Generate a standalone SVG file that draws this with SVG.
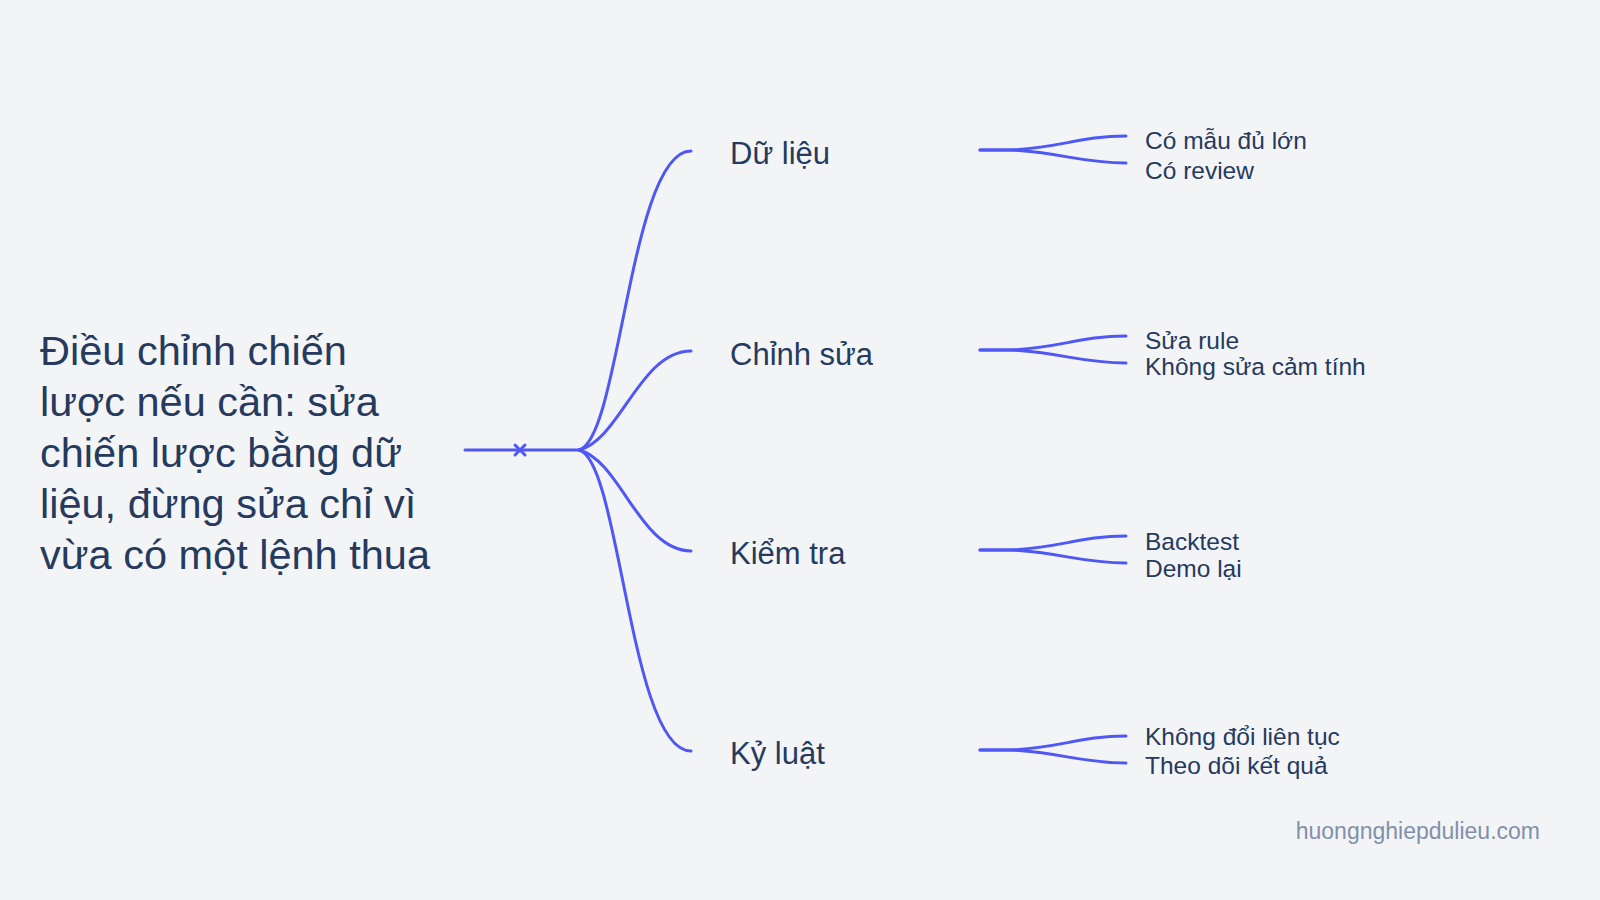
<svg xmlns="http://www.w3.org/2000/svg" width="1600" height="900" viewBox="0 0 1600 900">
<style>
.t{font-family:"Liberation Sans",Arial,sans-serif;fill:#263a5e}
.main{font-size:41.5px}
.lbl{font-size:31px}
.sub{font-size:24.5px}
.c path{fill:none;stroke:#4f58f5;stroke-width:3;stroke-linecap:round}
</style>
<rect width="1600" height="900" fill="#f3f4f6"/>
<g id="root">
<text class="t main" x="40" y="365">Điều chỉnh chiến</text>
<text class="t main" x="40" y="416">lược nếu cần: sửa</text>
<text class="t main" x="40" y="467">chiến lược bằng dữ</text>
<text class="t main" x="40" y="518">liệu, đừng sửa chỉ vì</text>
<text class="t main" x="40" y="569">vừa có một lệnh thua</text>
</g>
<g class="c" id="connectors">
<path d="M465,450 L579,450"/>
<path d="M515,445 L525,455 M525,445 L515,455"/>
<path d="M579,450 C620,440 630,151 691,151"/>
<path d="M579,450 C620,440 640,351 691,351"/>
<path d="M579,450 C620,460 640,551 691,551"/>
<path d="M579,450 C620,460 630,751 691,751"/>
<path d="M980,150 L1010,150 C1060,148 1080,136 1126,136"/>
<path d="M980,150 L1010,150 C1060,152 1080,163 1126,163"/>
<path d="M980,350 L1010,350 C1060,348 1080,336 1126,336"/>
<path d="M980,350 L1010,350 C1060,352 1080,363 1126,363"/>
<path d="M980,550 L1010,550 C1060,548 1080,536 1126,536"/>
<path d="M980,550 L1010,550 C1060,552 1080,563 1126,563"/>
<path d="M980,750 L1010,750 C1060,748 1080,736 1126,736"/>
<path d="M980,750 L1010,750 C1060,752 1080,763 1126,763"/>
</g>
<g id="n1"><text class="t lbl" x="730" y="164">Dữ liệu</text>
<text class="t sub" x="1145" y="149">Có mẫu đủ lớn</text><text class="t sub" x="1145" y="179">Có review</text></g>
<g id="n2"><text class="t lbl" x="730" y="365">Chỉnh sửa</text>
<text class="t sub" x="1145" y="349">Sửa rule</text><text class="t sub" x="1145" y="375">Không sửa cảm tính</text></g>
<g id="n3"><text class="t lbl" x="730" y="564">Kiểm tra</text>
<text class="t sub" x="1145" y="550">Backtest</text><text class="t sub" x="1145" y="577">Demo lại</text></g>
<g id="n4"><text class="t lbl" x="730" y="764">Kỷ luật</text>
<text class="t sub" x="1145" y="745">Không đổi liên tục</text><text class="t sub" x="1145" y="774">Theo dõi kết quả</text></g>
<text x="1540" y="839" text-anchor="end" font-family="Liberation Sans,Arial,sans-serif" font-size="23" fill="#8190aa">huongnghiepdulieu.com</text>
</svg>
